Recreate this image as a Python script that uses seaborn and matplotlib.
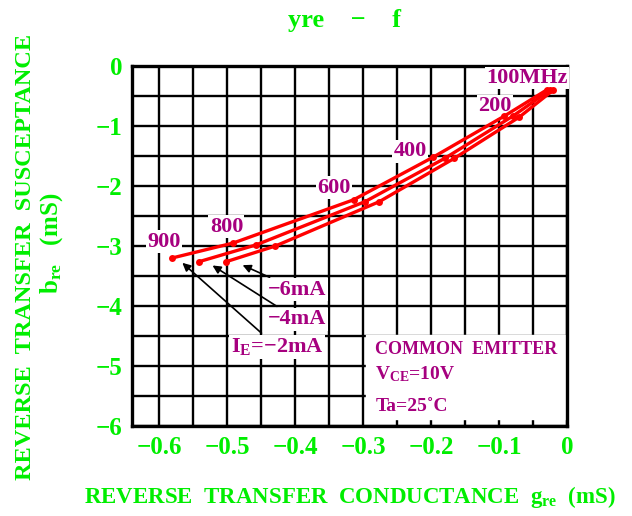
import matplotlib
matplotlib.use("Agg")
import matplotlib.pyplot as plt
import pandas as pd
import seaborn as sns

# 频率点 (MHz) 与三条 I_E 曲线的 g_re / b_re 读数 (mS)
FREQS = [100, 200, 400, 600, 800, 900]
CURRENTS = ["-2mA", "-4mA", "-6mA"]
G_2MA = [-0.030, -0.093, -0.197, -0.314, -0.491, -0.581]
B_2MA = [-0.40, -0.84, -1.52, -2.23, -2.95, -3.20]
G_4MA = [-0.025, -0.079, -0.180, -0.297, -0.457, -0.541]
B_4MA = [-0.40, -0.83, -1.54, -2.26, -2.98, -3.26]
G_6MA = [-0.020, -0.070, -0.166, -0.276, -0.429, -0.501]
B_6MA = [-0.40, -0.85, -1.54, -2.26, -3.00, -3.26]

FREQ_LABELS = ["100MHz", "200", "400", "600", "800", "900"]
FREQ_LABEL_POS = [(-0.059, -0.20), (-0.106, -0.67), (-0.231, -1.42),
                  (-0.343, -2.03), (-0.501, -2.68), (-0.593, -2.93)]

X_TICKS = [-0.6, -0.5, -0.4, -0.3, -0.2, -0.1, 0]
X_TICK_LABELS = ["\u22120.6", "\u22120.5", "\u22120.4", "\u22120.3", "\u22120.2", "\u22120.1", "0"]
Y_TICKS = [0, -1, -2, -3, -4, -5, -6]
Y_TICK_LABELS = ["0", "\u22121", "\u22122", "\u22123", "\u22124", "\u22125", "\u22126"]

GREEN = "#00EE00"
PURPLE = "#A6007F"
RED = "#FF0000"

sns.set_style("white")
plt.rcParams["font.family"] = ["Liberation Serif", "DejaVu Serif"]
plt.rcParams["font.weight"] = "bold"
plt.rcParams["mathtext.fontset"] = "custom"
plt.rcParams["mathtext.rm"] = "Liberation Serif:bold"
plt.rcParams["mathtext.it"] = "Liberation Serif:bold"
plt.rcParams["mathtext.bf"] = "Liberation Serif:bold"

frames = []
for cur, g, b in zip(CURRENTS, [G_2MA, G_4MA, G_6MA], [B_2MA, B_4MA, B_6MA]):
    frames.append(pd.DataFrame({"freq": FREQS, "g": g, "b": b, "IE": cur}))
df = pd.concat(frames, ignore_index=True)

fig = plt.figure(figsize=(6.32, 5.16), dpi=100)
ax = fig.add_axes([132 / 632, 90 / 516, 435 / 632, 360 / 516])

sns.lineplot(data=df, x="g", y="b", hue="IE", units="IE", estimator=None, sort=False,
             palette=[RED] * 3, lw=2.4, marker="o", markersize=5,
             markeredgewidth=0, legend=False, ax=ax, zorder=4)

ax.set_xlim(-0.64, 0)
ax.set_ylim(-6, 0)
ax.set_xticks(X_TICKS)
ax.set_xticklabels(X_TICK_LABELS)
ax.set_yticks(Y_TICKS)
ax.set_yticklabels(Y_TICK_LABELS)
ax.set_xticks([-0.55, -0.45, -0.35, -0.25, -0.15, -0.05], minor=True)
ax.set_yticks([-0.5, -1.5, -2.5, -3.5, -4.5, -5.5], minor=True)
ax.grid(which="both", color="black", lw=1.7)
ax.set_axisbelow(True)
ax.tick_params(which="both", length=0, labelsize=18, labelcolor=GREEN, pad=7)
for lab in ax.get_xticklabels() + ax.get_yticklabels():
    lab.set_fontweight("bold")
for sp in ax.spines.values():
    sp.set_linewidth(2.4)
    sp.set_color("black")
ax.set_xlabel("")
ax.set_ylabel("")

# 频率标注
for txt, (x, y) in zip(FREQ_LABELS, FREQ_LABEL_POS):
    ax.text(x, y, txt, color=PURPLE, fontsize=16, fontweight="bold", ha="center", va="center",
            bbox=dict(facecolor="white", edgecolor="none", pad=1), zorder=3)

# 电流标注与箭头
arrow = dict(arrowstyle="-|>", color="black", lw=1.2, mutation_scale=12)
ax.annotate("\u22126mA", xy=(-0.481, -3.30), xytext=(-0.44, -3.73), color=PURPLE,
            fontsize=16, fontweight="bold", ha="left", va="center", arrowprops=arrow,
            bbox=dict(facecolor="white", edgecolor="none", pad=1), zorder=5)
ax.annotate("\u22124mA", xy=(-0.525, -3.30), xytext=(-0.44, -4.22), color=PURPLE,
            fontsize=16, fontweight="bold", ha="left", va="center", arrowprops=arrow,
            bbox=dict(facecolor="white", edgecolor="none", pad=1), zorder=5)
ax.annotate("$\\mathrm{I_E}$=\u22122mA", xy=(-0.569, -3.25), xytext=(-0.495, -4.68),
            color=PURPLE, fontsize=16, fontweight="bold", ha="left", va="center",
            arrowprops=arrow, bbox=dict(facecolor="white", edgecolor="none", pad=1), zorder=5)

# 条件说明框
ax.fill_between([-0.295, 0], -5.88, -4.48, color="white", zorder=2.5)
ax.text(-0.282, -4.72, "COMMON  EMITTER", color=PURPLE, fontsize=13, fontweight="bold",
        ha="left", va="center", zorder=5)
ax.text(-0.282, -5.13, "$\\mathrm{V_{CE}}$=10V", color=PURPLE, fontsize=14, fontweight="bold",
        ha="left", va="center", zorder=5)
ax.text(-0.282, -5.67, "Ta=25\u02daC", color=PURPLE, fontsize=14, fontweight="bold",
        ha="left", va="center", zorder=5)

# 标题与坐标轴标签
fig.text(345 / 632, 1 - 20 / 516, "yre    \u2212    f", color=GREEN, fontsize=19,
         fontweight="bold", ha="center", va="center")
fig.text(350 / 632, 1 - 497 / 516, "REVERSE  TRANSFER  CONDUCTANCE  $\\mathrm{g_{re}}$  (mS)",
         color=GREEN, fontsize=16.5, fontweight="bold", ha="center", va="center")
fig.text(26 / 632, 1 - 257 / 516, "REVERSE  TRANSFER  SUSCEPTANCE", color=GREEN, fontsize=17.5,
         fontweight="bold", ha="center", va="center", rotation=90)
fig.text(52 / 632, 1 - 243 / 516, "$\\mathrm{b_{re}}$   (mS)", color=GREEN, fontsize=18,
         fontweight="bold", ha="center", va="center", rotation=90)

fig.savefig("out.png", dpi=100)
